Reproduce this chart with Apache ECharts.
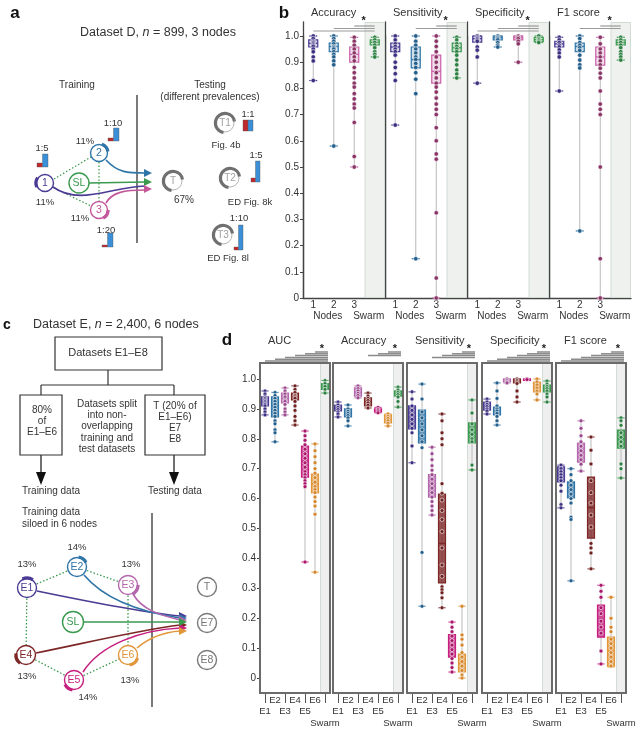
<!DOCTYPE html>
<html><head><meta charset="utf-8">
<script src="https://cdn.jsdelivr.net/npm/echarts@6/dist/echarts.min.js"></script>
<style>html,body{margin:0;padding:0;background:#fff}#chart{width:641px;height:736px}</style>
</head><body><div id="chart"></div>
<script>
// ---------------- DATA: panel b (dataset D, 3 nodes) ----------------
const bCategories = ['1', '2', '3', 'Swarm'];
const bMetrics = ['Accuracy', 'Sensitivity', 'Specificity', 'F1 score'];
// box = [min, q1, median, q3, max]
const bAccuracyBox = [[0.83,0.958,0.972,0.985,1.0],[0.58,0.94,0.96,0.973,1.0],[0.50,0.90,0.93,0.958,0.995],[0.92,0.966,0.976,0.985,0.995]];
const bAccuracyPts = [
  [1.0,0.99,0.98,0.975,0.97,0.965,0.96,0.95,0.94,0.92,0.905,0.83],
  [1.0,0.99,0.98,0.97,0.96,0.955,0.95,0.94,0.93,0.92,0.905,0.89,0.58],
  [0.995,0.98,0.965,0.95,0.935,0.92,0.905,0.88,0.86,0.84,0.82,0.805,0.78,0.76,0.74,0.725,0.67,0.54,0.50],
  [0.995,0.985,0.975,0.965,0.955,0.94,0.93,0.92]];
const bSensitivityBox = [[0.66,0.94,0.958,0.973,1.0],[0.15,0.878,0.91,0.958,1.0],[0.0,0.82,0.865,0.927,1.0],[0.84,0.94,0.955,0.973,0.995]];
const bSensitivityPts = [
  [1.0,0.985,0.97,0.96,0.95,0.94,0.927,0.90,0.88,0.856,0.83,0.66],
  [1.0,0.98,0.965,0.95,0.935,0.92,0.91,0.895,0.88,0.86,0.835,0.78,0.15],
  [1.0,0.98,0.96,0.94,0.92,0.90,0.88,0.86,0.84,0.82,0.805,0.786,0.763,0.74,0.72,0.70,0.65,0.60,0.55,0.53,0.325,0.076,0.0],
  [0.995,0.985,0.97,0.96,0.95,0.94,0.927,0.908,0.89,0.87,0.855,0.84]];
const bSpecificityBox = [[0.82,0.977,0.99,1.0,1.0],[0.958,0.985,0.993,1.0,1.0],[0.90,0.985,0.993,1.0,1.0],[0.975,0.978,0.986,0.995,1.0]];
const bSpecificityPts = [
  [1.0,0.995,0.99,0.985,0.98,0.958,0.946,0.92,0.82],
  [1.0,0.995,0.99,0.985,0.975,0.965,0.958],
  [1.0,0.995,0.99,0.98,0.97,0.90],
  [1.0,0.99,0.985,0.98,0.975]];
const bF1Box = [[0.79,0.958,0.97,0.98,0.995],[0.256,0.94,0.96,0.973,1.0],[0.0,0.889,0.92,0.958,0.995],[0.908,0.966,0.975,0.985,0.995]];
const bF1Pts = [
  [0.995,0.985,0.975,0.965,0.958,0.947,0.935,0.92,0.79],
  [1.0,0.99,0.975,0.965,0.955,0.945,0.927,0.908,0.89,0.878,0.256],
  [0.995,0.97,0.95,0.935,0.92,0.905,0.89,0.877,0.858,0.84,0.79,0.74,0.72,0.70,0.50,0.15,0.0],
  [0.995,0.985,0.975,0.965,0.955,0.94,0.93,0.92,0.908]];
// categories significantly different from Swarm
const bSignificant = [[0,1,2],[1,2],[0,1,2],[1,2]];

// ---------------- DATA: panel d (dataset E, 6 nodes) ----------------
const dCategories = ['E1','E2','E3','E4','E5','E6','Swarm'];
const dMetrics = ['AUC','Accuracy','Sensitivity','Specificity','F1 score'];
const dAucBox = [[0.88,0.91,0.925,0.94,0.96],[0.79,0.873,0.91,0.94,0.955],[0.88,0.92,0.935,0.953,0.97],[0.846,0.93,0.94,0.953,0.977],[0.388,0.672,0.725,0.776,0.826],[0.354,0.619,0.65,0.682,0.783],[0.953,0.965,0.975,0.985,0.995]];
const dAucPts = [
  [0.96,0.95,0.94,0.935,0.93,0.925,0.92,0.915,0.91,0.90,0.89,0.88],
  [0.955,0.945,0.935,0.925,0.915,0.905,0.895,0.885,0.875,0.86,0.85,0.83,0.82,0.79],
  [0.97,0.96,0.95,0.94,0.93,0.925,0.915,0.90,0.89,0.88],
  [0.977,0.965,0.955,0.945,0.94,0.935,0.925,0.91,0.895,0.875,0.86,0.846],
  [0.826,0.81,0.795,0.78,0.765,0.75,0.735,0.72,0.705,0.69,0.68,0.67,0.66,0.65,0.64,0.388],
  [0.783,0.76,0.74,0.72,0.70,0.685,0.67,0.655,0.64,0.63,0.62,0.605,0.59,0.575,0.548,0.354],
  [0.995,0.985,0.975,0.965,0.953]];
const dAccuracyBox = [[0.873,0.893,0.903,0.913,0.923],[0.843,0.873,0.885,0.9,0.913],[0.937,0.943,0.955,0.97,0.977],[0.903,0.91,0.925,0.937,0.953],[0.887,0.89,0.895,0.9,0.905],[0.843,0.853,0.865,0.88,0.883],[0.906,0.943,0.95,0.96,0.973]];
const dAccuracyPts = [
  [0.923,0.913,0.905,0.898,0.89,0.883,0.873],
  [0.913,0.9,0.892,0.885,0.878,0.87,0.86,0.843],
  [0.977,0.968,0.96,0.952,0.945,0.937],
  [0.953,0.943,0.935,0.928,0.92,0.912,0.903],
  [0.905,0.898,0.893,0.887],
  [0.883,0.875,0.868,0.86,0.852,0.843],
  [0.973,0.963,0.955,0.948,0.94,0.925,0.906]];
const dSensitivityBox = [[0.72,0.833,0.865,0.91,0.957],[0.24,0.786,0.85,0.896,0.983],[0.545,0.605,0.64,0.68,0.772],[0.235,0.318,0.45,0.615,0.883],[0.02,0.07,0.11,0.145,0.187],[0.0,0.02,0.05,0.08,0.24],[0.696,0.786,0.82,0.853,0.93]];
const dSensitivityPts = [
  [0.957,0.933,0.91,0.895,0.88,0.865,0.85,0.835,0.82,0.776,0.72],
  [0.983,0.933,0.89,0.87,0.85,0.83,0.81,0.79,0.77,0.42,0.24],
  [0.772,0.75,0.73,0.71,0.695,0.68,0.665,0.65,0.635,0.62,0.605,0.59,0.575,0.56,0.545],
  [0.883,0.86,0.82,0.80,0.78,0.65,0.618,0.595,0.56,0.53,0.49,0.435,0.378,0.34,0.305,0.295,0.285,0.268,0.235],
  [0.187,0.17,0.155,0.14,0.125,0.11,0.095,0.08,0.065,0.05,0.035,0.02],
  [0.24,0.144,0.13,0.11,0.085,0.07,0.055,0.04,0.025,0.01,0.0],
  [0.93,0.886,0.85,0.83,0.815,0.80,0.79,0.712,0.696]];
const dSpecificityBox = [[0.883,0.896,0.91,0.923,0.933],[0.846,0.88,0.893,0.906,0.987],[0.987,0.99,0.995,1.0,1.0],[0.923,0.987,0.993,1.0,1.0],[0.995,0.997,0.999,1.0,1.0],[0.93,0.957,0.973,0.99,1.0],[0.923,0.957,0.968,0.98,0.993]];
const dSpecificityPts = [
  [0.933,0.923,0.915,0.908,0.9,0.893,0.883],
  [0.987,0.96,0.935,0.91,0.9,0.893,0.885,0.875,0.86,0.846],
  [1.0,0.995,0.99,0.987],
  [1.0,0.995,0.99,0.985,0.96,0.94,0.923],
  [1.0,0.998],
  [1.0,0.99,0.98,0.97,0.96,0.95,0.93],
  [0.993,0.983,0.975,0.968,0.96,0.95,0.94,0.923]];
const dF1Box = [[0.569,0.656,0.68,0.706,0.712],[0.325,0.602,0.63,0.656,0.70],[0.692,0.722,0.755,0.786,0.86],[0.365,0.468,0.57,0.672,0.806],[0.047,0.137,0.19,0.244,0.31],[0.037,0.04,0.09,0.137,0.27],[0.669,0.769,0.80,0.829,0.87]];
const dF1Pts = [
  [0.712,0.70,0.69,0.68,0.67,0.66,0.645,0.625,0.58,0.569],
  [0.70,0.68,0.66,0.645,0.63,0.615,0.60,0.585,0.538,0.53,0.325],
  [0.86,0.835,0.81,0.79,0.775,0.76,0.745,0.73,0.715,0.692],
  [0.806,0.762,0.716,0.66,0.62,0.585,0.545,0.505,0.45,0.435,0.418,0.365],
  [0.31,0.29,0.27,0.235,0.215,0.19,0.17,0.15,0.09,0.047],
  [0.27,0.2,0.17,0.155,0.13,0.115,0.10,0.085,0.07,0.055,0.04],
  [0.87,0.86,0.845,0.82,0.805,0.79,0.775,0.716,0.70,0.669]];
const dSignificant = [[0,1,2,3,4,5],[3,4,5],[2,3,4,5],[0,1,2,3,4,5],[0,1,2,3,4,5]];

// ---------------- STYLE ----------------
const FONT = '"Liberation Sans", Arial, Helvetica, sans-serif';
const TXT = '#333';
const bBoxColors = ['#4b3b94','#2f75a8','#c95fa8','#3a9a4e'];
const bPtColors  = ['#3d2f80','#245f8c','#8a3566','#2d8042'];
const dBoxColors = ['#4b3b94','#2f75a8','#b467ad','#7d2626','#c61e7e','#e2963a','#3a9a4e'];
const dPtColors  = ['#3d2f80','#245f8c','#9b4a8f','#6e2020','#a9166b','#d4862b','#2d8042'];

function rgba(hex, a){const n=parseInt(hex.slice(1),16);return `rgba(${n>>16&255},${n>>8&255},${n&255},${a})`;}

const chart = echarts.init(document.getElementById('chart'));
const grid=[], xAxis=[], yAxis=[], series=[];
function addGrid(g, xa, ya){
  const i = grid.length;
  grid.push(Object.assign({outerBoundsMode:'none', containLabel:false}, g));
  xAxis.push(Object.assign({gridIndex:i}, xa));
  yAxis.push(Object.assign({gridIndex:i}, ya));
  return i;
}
function bandSeries(gi, cats, fill, border){
  return {type:'bar', xAxisIndex:gi, yAxisIndex:gi, silent:true, z:1, barWidth:'100%',
    data: cats.map((c,i)=> i===cats.length-1 ? 1 : '-'),
    itemStyle:{color:fill, borderColor:border, borderWidth:1}};
}
function boxSeries(gi, boxes, colors, alpha, boxW, capW){
  return {type:'custom', xAxisIndex:gi, yAxisIndex:gi, clip:false, silent:true, z:3,
    data: boxes.map((b,i)=>[i].concat(b)), encode:{x:0, y:[1,2,3,4,5]},
    renderItem:(params, api)=>{
      const ci = api.value(0);
      const p = [1,2,3,4,5].map(k=>api.coord([ci, api.value(k)]));
      const x = p[0][0], col = colors[ci];
      return {type:'group', children:[
        {type:'line', shape:{x1:x,y1:p[0][1],x2:x,y2:p[4][1]}, style:{stroke:'#b9b9b9', lineWidth:1}},
        {type:'line', shape:{x1:x-capW/2,y1:p[0][1],x2:x+capW/2,y2:p[0][1]}, style:{stroke:col, lineWidth:1.2}},
        {type:'line', shape:{x1:x-capW/2,y1:p[4][1],x2:x+capW/2,y2:p[4][1]}, style:{stroke:col, lineWidth:1.2}},
        {type:'rect', shape:{x:x-boxW/2, y:p[3][1], width:boxW, height:Math.max(1.5, p[1][1]-p[3][1])}, style:{fill:rgba(col,alpha), stroke:col, lineWidth:1.2}},
        {type:'line', shape:{x1:x-boxW/2,y1:p[2][1],x2:x+boxW/2,y2:p[2][1]}, style:{stroke:col, lineWidth:1.4}}
      ]};
    }};
}
function pointSeries(gi, pts, colors, size){
  const data=[]; pts.forEach((arr,i)=>arr.forEach(v=>data.push([i,v])));
  return {type:'scatter', xAxisIndex:gi, yAxisIndex:gi, data, symbolSize:size, clip:false, silent:true, z:4,
    itemStyle:{color:p=>colors[p.data[0]], borderColor:'#fff', borderWidth:0.6, opacity:1}};
}
const yFmt = v => v===0 ? '0' : v.toFixed(1);
const axisCol = '#444';

// ---------------- panel b layout ----------------
const B = {left:303, step:82, width:82, top:36, bottom:298, bandTop:22};
const bData = [[bAccuracyBox,bAccuracyPts],[bSensitivityBox,bSensitivityPts],[bSpecificityBox,bSpecificityPts],[bF1Box,bF1Pts]];
const bGridIdx = [];
bMetrics.forEach((m,k)=>{
  const left = B.left + k*B.step;
  const bg = addGrid({left, top:B.bandTop, width:B.width, height:B.bottom-B.bandTop},
    {type:'category', data:bCategories, show:false},
    {type:'value', min:0, max:1, axisLine:{show:true, lineStyle:{color:axisCol, width:1.3}}, axisTick:{show:false}, axisLabel:{show:false}, splitLine:{show:false}});
  series.push(bandSeries(bg, bCategories, '#eff1ef', '#d0dcd3'));
  const gi = addGrid({left, top:B.top, width:B.width, height:B.bottom-B.top},
    {type:'category', data:bCategories, axisLine:{show:true, lineStyle:{color:axisCol, width:1.3}}, axisTick:{show:false},
      axisLabel:{interval:0, hideOverlap:false, margin:2, fontSize:10, lineHeight:11, color:TXT, fontFamily:FONT,
        formatter:(v,i)=> i===1 ? '2\n{sh|Nodes}' : (i===3 ? ' \n{sh|Swarm}' : v),
        rich:{sh:{padding:[0,12,0,0], fontSize:10, lineHeight:11, color:TXT, fontFamily:FONT}}}},
    {type:'value', min:0, max:1, interval:0.1, axisLine:{show:true, lineStyle:{color:axisCol, width:1.3}},
      axisTick:{show:true, length:3, lineStyle:{color:axisCol}}, splitLine:{show:false},
      axisLabel:{show:k===0, fontSize:10, color:TXT, fontFamily:FONT, margin:4, formatter:yFmt}});
  bGridIdx.push(gi);
  series.push(boxSeries(gi, bData[k][0], bBoxColors, 0.22, 9, 8));
  series.push(pointSeries(gi, bData[k][1], bPtColors, 4.5));
});

// ---------------- panel d layout ----------------
const D = {lefts:[260,333,407,482,556], width:70, frameTop:363, frameBottom:693, top:379, bottom:678};
const dData = [[dAucBox,dAucPts],[dAccuracyBox,dAccuracyPts],[dSensitivityBox,dSensitivityPts],[dSpecificityBox,dSpecificityPts],[dF1Box,dF1Pts]];
const dGridIdx = [];
dMetrics.forEach((m,k)=>{
  const left = D.lefts[k];
  const fg = addGrid({left, top:D.frameTop, width:D.width, height:D.frameBottom-D.frameTop, show:true, borderColor:'#6b6b6b', borderWidth:2, backgroundColor:'transparent', z:5},
    {type:'category', data:dCategories, axisLine:{show:false},
      axisTick:{show:true, alignWithLabel:true, interval:(i)=>i%2===0, length:10, lineStyle:{color:'#555', width:1}},
      axisLabel:{interval:0, hideOverlap:false, margin:1.5, fontSize:9.5, lineHeight:11.5, color:TXT, fontFamily:FONT,
        formatter:(v,i)=> i===6 ? ' \n \n'+v : (i%2===1 ? v : ' \n'+v)}},
    {type:'value', min:0, max:1, show:false});
  series.push(bandSeries(fg, dCategories, '#efefef', '#d3ddd6'));
  const gi = addGrid({left, top:D.top, width:D.width, height:D.bottom-D.top},
    {type:'category', data:dCategories, show:false},
    {type:'value', min:0, max:1, interval:0.1, axisLine:{show:false}, splitLine:{show:false},
      axisTick:{show:k===0, length:3, lineStyle:{color:axisCol}},
      axisLabel:{show:k===0, fontSize:10, color:TXT, fontFamily:FONT, margin:4, formatter:yFmt}});
  dGridIdx.push(gi);
  series.push(boxSeries(gi, dData[k][0], dBoxColors, 0.8, 7, 7));
  series.push(pointSeries(gi, dData[k][1], dPtColors, 4));
});

chart.setOption({animation:false, backgroundColor:'#fff', grid, xAxis, yAxis, series});

// ---------------- annotations & schematics ----------------
const G = [];
function T(x,y,text,size,opt){
  opt = opt||{};
  const st = Object.assign({text, fontSize:size, fontFamily:FONT, fill:TXT, align:'center', verticalAlign:'middle'}, opt);
  st.textAlign = st.align; st.textVerticalAlign = st.verticalAlign;
  return {type:'text', x, y, silent:true, z:50, style:st};
}
function L(x1,y1,x2,y2,stroke,w,dash){return {type:'line', silent:true, z:40, shape:{x1,y1,x2,y2}, style:{stroke, lineWidth:w||1, lineDash:dash||null}};}
function R(x,y,w,h,fill,stroke,lw){return {type:'rect', silent:true, z:41, shape:{x,y,width:w,height:h}, style:{fill:fill||'none', stroke:stroke||null, lineWidth:lw||1}};}
function BZ(x1,y1,c1x,c1y,c2x,c2y,x2,y2,stroke,w){return {type:'bezierCurve', silent:true, z:40, shape:{x1,y1,cpx1:c1x,cpy1:c1y,cpx2:c2x,cpy2:c2y,x2,y2}, style:{stroke, lineWidth:w||1.6, fill:null}};}
function AH(x,y,color,s){s=s||1;return {type:'polygon', silent:true, z:43, shape:{points:[[x-8*s,y-4*s],[x,y],[x-8*s,y+4*s]]}, style:{fill:color}};}
function ADown(x,y){return {type:'polygon', silent:true, z:43, shape:{points:[[x-5,y-13],[x+5,y-13],[x,y]]}, style:{fill:'#111'}};}
function NODE(cx,cy,r,color,label,a0,a1,opt){
  opt=opt||{};
  const out=[{type:'circle', silent:true, z:44, shape:{cx,cy,r}, style:{fill:'#fff', stroke:opt.ring||color, lineWidth:opt.ringW||1.4}}];
  if(a0!==null) out.push({type:'arc', silent:true, z:45, shape:{cx,cy,r:r+0.6,startAngle:a0*Math.PI,endAngle:a1*Math.PI,clockwise:true}, style:{stroke:opt.arc||color, lineWidth:3.2, fill:null}});
  out.push(T(cx,cy+0.5,label,opt.fs||10.5,{fill:opt.txt||color}));
  return out;
}
function PREV(x,y,redH,blueH,w){ // prevalence icon: bottom-left at x,y
  return [R(x,y-redH,w,redH,'#c0282b','#555',0.4), R(x+w,y-blueH,w,blueH,'#3a8fd8','#555',0.4)];
}
const green='#3a9a4e', dotted=[1.5,2];

// panel letters
G.push(T(15,13,'a',17,{fontWeight:'bold',fill:'#111'}), T(284,13,'b',17,{fontWeight:'bold',fill:'#111'}),
       T(7,325,'c',14,{fontWeight:'bold',fill:'#111'}), T(227,340,'d',17,{fontWeight:'bold',fill:'#111'}));

// ---- panel a schematic ----
G.push(T(158,33,'Dataset D, {i|n} = 899, 3 nodes',12.5,{rich:{i:{fontStyle:'italic',fontSize:12.5,fontFamily:FONT,fill:TXT}}}));
G.push(T(77,85,'Training',10), T(210,85,'Testing',10), T(210,97,'(different prevalences)',10));
G.push(L(137,95,137,243,'#222',1.2));
G.push(L(54,179,91,157,green,1.2,dotted), L(54,188,91,206,green,1.2,dotted), L(99,162,99,201,green,1.2,dotted));
G.push(BZ(106,160,118,173,128,173,145,173,'#2f75a8'));
G.push(L(89,183,145,182,green,1.6));
G.push(BZ(53,187,80,206,110,187,145,186,'#4b3b94'));
G.push(BZ(106,203,112,192,125,190,145,190,'#c4569a'));
G.push(AH(152,173,'#2f75a8'), AH(152,182,green), AH(152,189,'#c4569a'));
G.push(...NODE(45,183,8.5,'#4b3b94','1',0.85,1.2), ...NODE(99,153,8.5,'#2f75a8','2',1.6,1.95), ...NODE(99,210,8.5,'#c4569a','3',0.0,0.35), ...NODE(79,183,10,green,'SL',null,null));
G.push(T(45,202,'11%',9.5), T(85,141,'11%',9.5), T(80,218,'11%',9.5));
G.push(T(42,148,'1:5',9.5), ...PREV(37,167,4,13,5.5));
G.push(T(113,123,'1:10',9.5), ...PREV(108,141,3,13,5.5));
G.push(T(106,230,'1:20',9.5), ...PREV(102,247,2,14,5.5));
const gOpt={ring:'#b5b5b5',ringW:1,arc:'#707070',txt:'#a0a0a0',fs:10};
G.push(...NODE(173,181,9,'#777','T',0.55,1.95,gOpt), T(184,200,'67%',10));
G.push(...NODE(225,123,9,'#777','T1',0.55,1.95,gOpt), T(248,114,'1:1',9.5), ...PREV(243,131,11,11,5), T(226,145,'Fig. 4b',9.5));
G.push(...NODE(230,178,9,'#777','T2',0.55,1.95,gOpt), T(256,155,'1:5',9.5), ...PREV(251,182,4,21,4.5), T(250,202,'ED Fig. 8k',9.5));
G.push(...NODE(223,235,9,'#777','T3',0.55,1.95,gOpt), T(239,218,'1:10',9.5), ...PREV(234,250,3,25,4.5), T(228,258,'ED Fig. 8l',9.5));

// ---- panel c schematic ----
G.push(T(33,325,'Dataset E, {i|n} = 2,400, 6 nodes',12.5,{align:'left',rich:{i:{fontStyle:'italic',fontSize:12.5,fontFamily:FONT,fill:TXT}}}));
G.push(R(55,337,107,33,null,'#333',1.2), T(108,353,'Datasets E1–E8',11));
G.push(L(108,370,108,385,'#333',1.2), L(41,385,174,385,'#333',1.2), L(41,385,41,395,'#333',1.2), L(174,385,174,395,'#333',1.2));
G.push(R(20,395,42,60,null,'#333',1.2), R(145,395,60,60,null,'#333',1.2));
G.push(T(42,410,'80%',10), T(42,421,'of',10), T(42,432,'E1–E6',10));
G.push(T(175,406,'T (20% of',10), T(175,417,'E1–E6)',10), T(175,428,'E7',10), T(175,439,'E8',10));
['Datasets split','into non-','overlapping','training and','test datasets'].forEach((s,i)=>G.push(T(107,404+i*11.3,s,10)));
G.push(L(41,455,41,472,'#111',1.2), ADown(41,485), L(174,455,174,472,'#111',1.2), ADown(174,485));
G.push(T(22,491,'Training data',10,{align:'left'}), T(148,491,'Testing data',10,{align:'left'}));
G.push(T(22,512,'Training data',10,{align:'left'}), T(22,524,'siloed in 6 nodes',10,{align:'left'}));
G.push(L(152,513,152,707,'#222',1.2));
const cN = {E1:[27,588,'#4b3b94'],E2:[77,567,'#2f75a8'],E3:[128,585,'#b467ad'],SL:[73,622,green],E4:[26,655,'#7d2626'],E5:[74,680,'#c61e7e'],E6:[128,655,'#e2963a']};
[['E1','E2'],['E2','E3'],['E1','E4'],['E3','E6'],['E4','E5'],['E5','E6']].forEach(([a,b])=>G.push(L(cN[a][0],cN[a][1],cN[b][0],cN[b][1],green,1.3,dotted)));
G.push(BZ(37,591,90,602,140,612,180,616,cN.E1[2]));
G.push(BZ(84,575,105,600,140,612,180,618,cN.E2[2]));
G.push(BZ(133,594,142,610,160,615,180,620,cN.E3[2]));
G.push(L(83,622,180,622,green,1.6));
G.push(BZ(36,653,90,642,140,630,180,625,cN.E4[2]));
G.push(BZ(83,672,100,645,140,630,180,628,cN.E5[2]));
G.push(BZ(137,648,150,637,165,632,180,631,cN.E6[2]));
G.push(AH(187,616,cN.E1[2]), AH(187,618,cN.E2[2]), AH(187,620,cN.E3[2]), AH(187,625,cN.E4[2]), AH(187,628,cN.E5[2]), AH(187,631,cN.E6[2]), AH(187,622,green));
const cArc = {E1:[1.35,1.7],E2:[1.55,1.85],E3:[0.0,0.35],SL:[null,null],E4:[0.7,1.05],E5:[0.55,0.85],E6:[0.1,0.45]};
Object.keys(cN).forEach(k=>G.push(...NODE(cN[k][0],cN[k][1],k==='SL'?10.5:9.5,cN[k][2],k,cArc[k][0],cArc[k][1],{fs:10.5})));
G.push(T(27,564,'13%',9.5), T(77,547,'14%',9.5), T(131,564,'13%',9.5), T(27,676,'13%',9.5), T(88,697,'14%',9.5), T(130,680,'13%',9.5));
const tOpt={ring:'#7a7a7a',ringW:1.4,txt:'#777',fs:10.5};
G.push(...NODE(207,587,9.5,'#777','T',null,null,tOpt), ...NODE(207,623,9.5,'#777','E7',null,null,tOpt), ...NODE(207,660,9.5,'#777','E8',null,null,tOpt));

// ---- titles and significance bars (positions from the axes) ----
const cx = (gi,i)=>chart.convertToPixel({xAxisIndex:gi}, i);
bMetrics.forEach((m,k)=>{
  const gi = bGridIdx[k];
  const left = B.left + k*B.step;
  G.push(T(left+8,13,m,11,{align:'left'}));
  const xs = cx(gi,3);
  bSignificant[k].forEach(c=>G.push(L(cx(gi,c),31-c*2.5,xs,31-c*2.5,'#9a9a9a',1.2)));
  G.push(T(xs-11,21,'*',11,{fontWeight:'bold',fill:'#222'}));
});
dMetrics.forEach((m,k)=>{
  const gi = dGridIdx[k];
  G.push(T(D.lefts[k]+8,341,m,11,{align:'left'}));
  const xs = cx(gi,6);
  dSignificant[k].forEach(c=>G.push(L(cx(gi,c),361-c*1.8,xs+3,361-c*1.8,'#8a8a8a',1.5)));
  G.push(T(xs-3,349,'*',11,{fontWeight:'bold',fill:'#222'}));
});

chart.setOption({graphic:{elements:G}});
</script></body></html>
